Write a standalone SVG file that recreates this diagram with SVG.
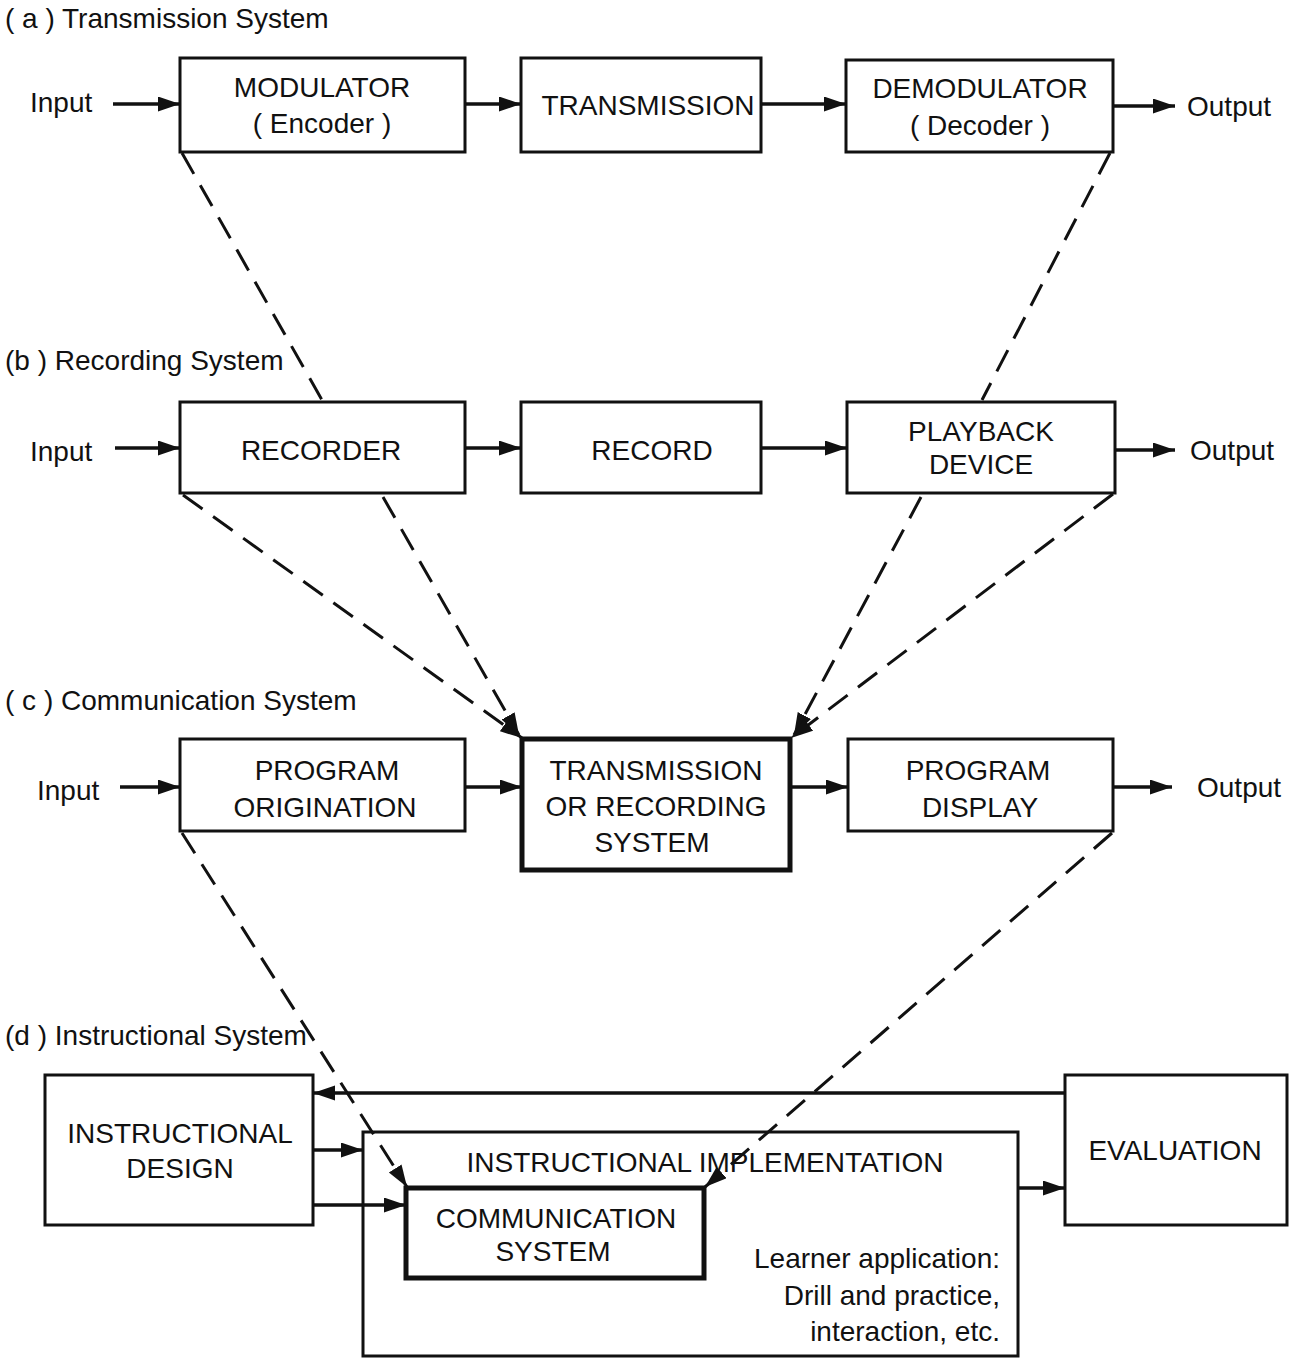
<svg xmlns="http://www.w3.org/2000/svg" width="1305" height="1359" viewBox="0 0 1305 1359">
<style>
text{font-family:"Liberation Sans","DejaVu Sans",sans-serif;fill:#111;}
.lbl{font-size:28px;text-anchor:middle;}
.io{font-size:28px;}
.ttl{font-size:28px;}
.box{fill:none;stroke:#111;stroke-width:3;}
.thick{fill:none;stroke:#111;stroke-width:5;}
.flow{fill:none;stroke:#111;stroke-width:3.5;}
.dash{fill:none;stroke:#111;stroke-width:3;stroke-dasharray:24 13;}
</style>
<defs>
<marker id="ah" markerUnits="userSpaceOnUse" markerWidth="24" markerHeight="16" refX="22" refY="7.5" orient="auto">
<path d="M0,0 L22,7.5 L0,15 Z" fill="#111" stroke="none"/>
</marker>
</defs>
<rect width="1305" height="1359" fill="#fff"/>

<text class="ttl" x="5" y="28">( a ) Transmission System</text>
<text class="ttl" x="5" y="370">(b ) Recording System</text>
<text class="ttl" x="5" y="710">( c ) Communication System</text>
<text class="ttl" x="5" y="1045">(d ) Instructional System</text>

<g id="connectors">
<!-- row a -->
<line class="flow" x1="113" y1="104" x2="180" y2="104" marker-end="url(#ah)"/>
<line class="flow" x1="465" y1="104" x2="521" y2="104" marker-end="url(#ah)"/>
<line class="flow" x1="761" y1="104" x2="846" y2="104" marker-end="url(#ah)"/>
<line class="flow" x1="1113" y1="106" x2="1175" y2="106" marker-end="url(#ah)"/>
<!-- row b -->
<line class="flow" x1="115" y1="448" x2="180" y2="448" marker-end="url(#ah)"/>
<line class="flow" x1="465" y1="448" x2="521" y2="448" marker-end="url(#ah)"/>
<line class="flow" x1="761" y1="448" x2="847" y2="448" marker-end="url(#ah)"/>
<line class="flow" x1="1115" y1="450" x2="1175" y2="450" marker-end="url(#ah)"/>
<!-- row c -->
<line class="flow" x1="120" y1="787" x2="180" y2="787" marker-end="url(#ah)"/>
<line class="flow" x1="465" y1="787" x2="522" y2="787" marker-end="url(#ah)"/>
<line class="flow" x1="790" y1="787" x2="848" y2="787" marker-end="url(#ah)"/>
<line class="flow" x1="1113" y1="787" x2="1172" y2="787" marker-end="url(#ah)"/>
<!-- row d -->
<line class="flow" x1="1065" y1="1093" x2="313" y2="1093" marker-end="url(#ah)"/>
<line class="flow" x1="313" y1="1150" x2="363" y2="1150" marker-end="url(#ah)"/>
<line class="flow" x1="313" y1="1205" x2="406" y2="1205" marker-end="url(#ah)"/>
<line class="flow" x1="1018" y1="1188" x2="1065" y2="1188" marker-end="url(#ah)"/>
<!-- dashed a-b -->
<line class="dash" x1="182" y1="153" x2="322" y2="400"/>
<line class="dash" x1="1110" y1="153" x2="982" y2="400"/>
<!-- dashed b-c -->
<line class="dash" x1="183" y1="495" x2="522" y2="738" marker-end="url(#ah)"/>
<line class="dash" x1="383" y1="497" x2="519" y2="735" marker-end="url(#ah)"/>
<line class="dash" x1="921" y1="497" x2="794" y2="735" marker-end="url(#ah)"/>
<line class="dash" x1="1113" y1="494" x2="791" y2="738" marker-end="url(#ah)"/>
<!-- dashed c-d -->
<line class="dash" x1="182" y1="833" x2="407" y2="1187" marker-end="url(#ah)"/>
<line class="dash" x1="1112" y1="833" x2="705" y2="1187" marker-end="url(#ah)"/>
</g>

<g id="a-modulator">
<rect class="box" x="180" y="58" width="285" height="94"/>
<text class="lbl" x="322" y="97">MODULATOR</text>
<text class="lbl" x="322" y="133">( Encoder )</text>
</g>
<g id="a-transmission">
<rect class="box" x="521" y="58" width="240" height="94"/>
<text class="lbl" x="648" y="115">TRANSMISSION</text>
</g>
<g id="a-demodulator">
<rect class="box" x="846" y="60" width="267" height="92"/>
<text class="lbl" x="980" y="98">DEMODULATOR</text>
<text class="lbl" x="980" y="135">( Decoder )</text>
</g>
<g id="a-io">
<text class="io" x="30" y="112">Input</text>
<text class="io" x="1187" y="116">Output</text>
</g>

<g id="b-recorder">
<rect class="box" x="180" y="402" width="285" height="91"/>
<text class="lbl" x="321" y="460">RECORDER</text>
</g>
<g id="b-record">
<rect class="box" x="521" y="402" width="240" height="91"/>
<text class="lbl" x="652" y="460">RECORD</text>
</g>
<g id="b-playback">
<rect class="box" x="847" y="402" width="268" height="91"/>
<text class="lbl" x="981" y="441">PLAYBACK</text>
<text class="lbl" x="981" y="474">DEVICE</text>
</g>
<g id="b-io">
<text class="io" x="30" y="461">Input</text>
<text class="io" x="1190" y="460">Output</text>
</g>

<g id="c-origination">
<rect class="box" x="180" y="739" width="285" height="92"/>
<text class="lbl" x="327" y="780">PROGRAM</text>
<text class="lbl" x="325" y="817">ORIGINATION</text>
</g>
<g id="c-system">
<rect class="thick" x="522" y="739" width="268" height="131"/>
<text class="lbl" x="656" y="780">TRANSMISSION</text>
<text class="lbl" x="656" y="816">OR RECORDING</text>
<text class="lbl" x="652" y="852">SYSTEM</text>
</g>
<g id="c-display">
<rect class="box" x="848" y="739" width="265" height="92"/>
<text class="lbl" x="978" y="780">PROGRAM</text>
<text class="lbl" x="980" y="817">DISPLAY</text>
</g>
<g id="c-io">
<text class="io" x="37" y="800">Input</text>
<text class="io" x="1197" y="797">Output</text>
</g>

<g id="d-design">
<rect class="box" x="45" y="1075" width="268" height="150"/>
<text class="lbl" x="180" y="1143">INSTRUCTIONAL</text>
<text class="lbl" x="180" y="1178">DESIGN</text>
</g>
<g id="d-implementation">
<rect class="box" x="363" y="1132" width="655" height="224"/>
<text class="lbl" x="705" y="1172">INSTRUCTIONAL IMPLEMENTATION</text>
<text class="io" x="1000" y="1268" text-anchor="end">Learner application:</text>
<text class="io" x="1000" y="1305" text-anchor="end">Drill and practice,</text>
<text class="io" x="1000" y="1341" text-anchor="end">interaction, etc.</text>
</g>
<g id="d-communication">
<rect class="thick" x="406" y="1188" width="298" height="90"/>
<text class="lbl" x="556" y="1228">COMMUNICATION</text>
<text class="lbl" x="553" y="1261">SYSTEM</text>
</g>
<g id="d-evaluation">
<rect class="box" x="1065" y="1075" width="222" height="150"/>
<text class="lbl" x="1175" y="1160">EVALUATION</text>
</g>
</svg>
